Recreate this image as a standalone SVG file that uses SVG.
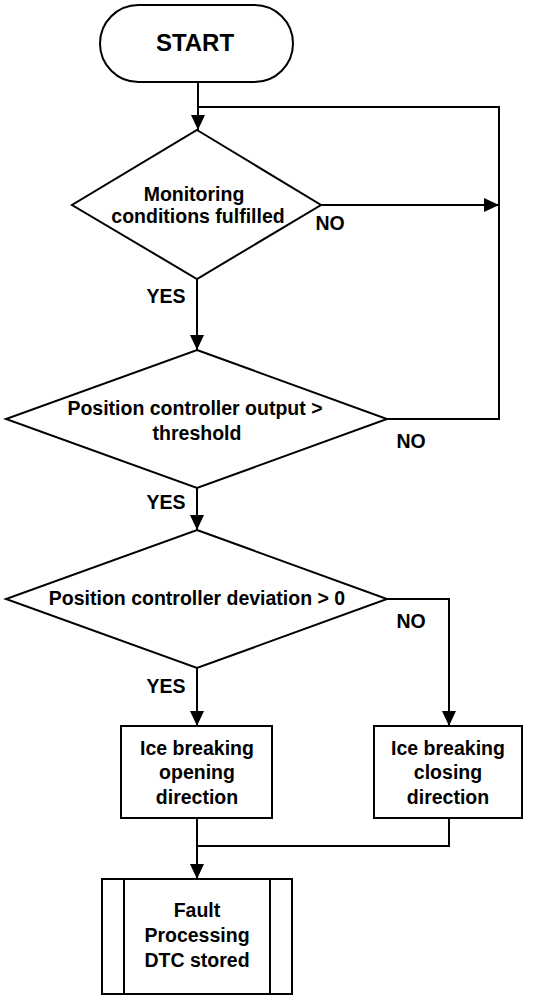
<svg xmlns="http://www.w3.org/2000/svg" width="544" height="1002" viewBox="0 0 544 1002">
<style>
.s{fill:#fff;stroke:#000;stroke-width:2}
.c{fill:none;stroke:#000;stroke-width:2}
.t{font-family:"Liberation Sans",Arial,sans-serif;font-size:19.5px;font-weight:bold;fill:#000;text-anchor:middle}
.b{font-size:24px}
</style>
<defs>
<marker id="ah" markerUnits="userSpaceOnUse" markerWidth="15" markerHeight="14" refX="15" refY="7" orient="auto">
<path d="M0,0 L15,7 L0,14 z" fill="#000"/>
</marker>
</defs>
<rect width="544" height="1002" fill="#fff"/>
<g id="connectors">
<path class="c" d="M198,82 V130" marker-end="url(#ah)"/>
<path class="c" d="M387,419 H499 V107 H198"/>
<path class="c" d="M321,205 H499" marker-end="url(#ah)"/>
<path class="c" d="M197,279 V350" marker-end="url(#ah)"/>
<path class="c" d="M197,488 V530" marker-end="url(#ah)"/>
<path class="c" d="M197,668 V726" marker-end="url(#ah)"/>
<path class="c" d="M387,599 H449 V726" marker-end="url(#ah)"/>
<path class="c" d="M197,818 V879" marker-end="url(#ah)"/>
<path class="c" d="M449,818 V846 H197"/>
<text class="t" x="330" y="230">NO</text>
<text class="t" x="166" y="303">YES</text>
<text class="t" x="411" y="448">NO</text>
<text class="t" x="166" y="509">YES</text>
<text class="t" x="411" y="628">NO</text>
<text class="t" x="166" y="693">YES</text>
</g>
<g id="start">
<rect class="s" x="100" y="5" width="193" height="77" rx="38.5"/>
<text class="t b" x="195" y="51">START</text>
</g>
<g id="monitoring">
<polygon class="s" points="197,130 321,205 197,279 72,205"/>
<text class="t" x="194" y="201">Monitoring</text>
<text class="t" x="198" y="223">conditions fulfilled</text>
</g>
<g id="output">
<polygon class="s" points="197,350 387,419 197,488 6,419"/>
<text class="t" x="195" y="415">Position controller output &gt;</text>
<text class="t" x="197" y="440">threshold</text>
</g>
<g id="deviation">
<polygon class="s" points="197,530 387,599 197,668 6,599"/>
<text class="t" x="197" y="605">Position controller deviation &gt; 0</text>
</g>
<g id="opening">
<rect class="s" x="121" y="726" width="151" height="92"/>
<text class="t" x="197" y="755">Ice breaking</text>
<text class="t" x="197" y="779">opening</text>
<text class="t" x="197" y="804">direction</text>
</g>
<g id="closing">
<rect class="s" x="374" y="726" width="148" height="92"/>
<text class="t" x="448" y="755">Ice breaking</text>
<text class="t" x="448" y="779">closing</text>
<text class="t" x="448" y="804">direction</text>
</g>
<g id="fault">
<rect class="s" x="102" y="879" width="190" height="115"/>
<path class="c" d="M124,879 V994 M270,879 V994"/>
<text class="t" x="197" y="917">Fault</text>
<text class="t" x="197" y="942">Processing</text>
<text class="t" x="197" y="967">DTC stored</text>
</g>
</svg>
